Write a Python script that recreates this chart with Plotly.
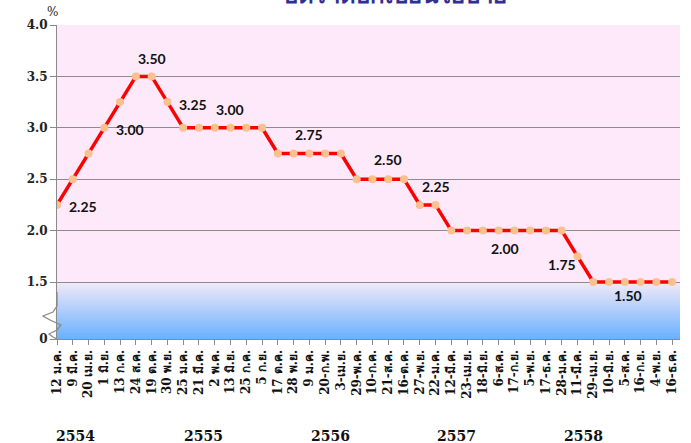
import plotly.graph_objects as go

# ---------------- data ----------------
dates = ["12 ม.ค.", "9 มี.ค.", "20 เม.ย.", "1 มิ.ย.", "13 ก.ค.", "24 ส.ค.", "19 ต.ค.", "30 พ.ย.",
         "25 ม.ค.", "21 มี.ค.", "2 พ.ค.", "13 มิ.ย.", "25 ก.ค.", "5 ก.ย.", "17 ต.ค.", "28 พ.ย.",
         "9 ม.ค.", "20-ก.พ.", "3-เม.ย.", "29-พ.ค.", "10-ก.ค.", "21-ส.ค.", "16-ต.ค.", "27-พ.ย.",
         "22-ม.ค.", "12-มี.ค.", "23-เม.ย.", "18-มิ.ย.", "6-ส.ค.", "17-ก.ย.", "5-พ.ย.", "17-ธ.ค.",
         "28-ม.ค.", "11-มี.ค.", "29-เม.ย.", "10-มิ.ย.", "5-ส.ค.", "16-ก.ย.", "4-พ.ย.", "16-ธ.ค."]
rates = [2.25, 2.50, 2.75, 3.00, 3.25, 3.50, 3.50, 3.25,
         3.00, 3.00, 3.00, 3.00, 3.00, 3.00, 2.75, 2.75,
         2.75, 2.75, 2.75, 2.50, 2.50, 2.50, 2.50, 2.25,
         2.25, 2.00, 2.00, 2.00, 2.00, 2.00, 2.00, 2.00,
         2.00, 1.75, 1.50, 1.50, 1.50, 1.50, 1.50, 1.50]
label_idx = [0, 3, 6, 7, 11, 16, 21, 24, 28, 33, 36]
years = ["2554", "2555", "2556", "2557", "2558"]
y_tickvals = [1.5, 2.0, 2.5, 3.0, 3.5, 4.0]
y_ticktext = ["1.5", "2.0", "2.5", "3.0", "3.5", "4.0"]
title_text = "อัตราดอกเบี้ยนโยบาย"

# ---------------- layout constants ----------------
W, H = 691, 443
ML, MR, MT, MB = 57, 11, 25, 104
PW, PH = W - ML - MR, H - MT - MB
Y_BOTTOM = 0.9455  # axis break: "0" shown at bottom
Y_TOP = 4.0
X_MAX = len(dates) - 0.5

def px_to_xp(px):
    return (px - ML) / PW

def py_to_yd(py):
    return Y_BOTTOM + (MT + PH - py) / PH * (Y_TOP - Y_BOTTOM)

def py_to_yp(py):
    return (MT + PH - py) / PH

x = list(range(len(dates)))

fig = go.Figure()
fig.add_trace(go.Scatter(
    x=x, y=rates, mode="lines+markers",
    line=dict(color="#FF0000", width=3.5),
    marker=dict(color="#FAC08F", size=8, line=dict(width=0)),
    hoverinfo="skip", showlegend=False,
))

shapes = []
# gradient band below 1.5 (stacked rects, each reaching to the bottom -> no seams)
n = 40
c_top = (242, 234, 248)
c_bot = (106, 176, 255)
for i in range(n):
    t0 = i / n
    tm = (i + 0.5) / n
    c = tuple(int(round(c_top[k] + (c_bot[k] - c_top[k]) * tm)) for k in range(3))
    y0 = 1.5 - (1.5 - Y_BOTTOM) * t0
    shapes.append(dict(type="rect", xref="paper", yref="y", x0=0, x1=1, y0=Y_BOTTOM, y1=y0,
                       fillcolor="rgb(%d,%d,%d)" % c, line=dict(width=0), layer="below"))

# axis-break squiggle
pts = [(57, 292), (57, 306), (53, 312), (43, 316), (50, 320), (61, 325),
       (57, 330), (49, 334), (53, 337), (57, 339)]
path = "M " + " L ".join("%.5f,%.5f" % (px_to_xp(px), py_to_yd(py)) for px, py in pts)
shapes.append(dict(type="path", xref="paper", yref="y", path=path,
                   line=dict(color="#8A8A8A", width=1.3), layer="above"))

# data-label annotations (offsets in px: dx right, dy down)
offsets = {0: (26, 2), 3: (26, 2), 6: (0, -18), 7: (26, 2), 11: (0, -18), 16: (0, -19),
           21: (0, -20), 24: (0, -18), 28: (6, 18), 33: (-15, 8), 36: (3, 13)}
annotations = []
for i in label_idx:
    dx, dy = offsets[i]
    annotations.append(dict(x=x[i], y=rates[i], xref="x", yref="y", text="<b>%.2f</b>" % rates[i],
                            showarrow=False, xshift=dx, yshift=-dy,
                            font=dict(family="Lato", size=14, color="#111111"),
                            xanchor="center", yanchor="middle"))

# year labels
year_px = [75, 203, 330, 456, 583]
for yl, px in zip(years, year_px):
    annotations.append(dict(x=px_to_xp(px), y=py_to_yp(436), xref="paper", yref="paper",
                            text="<b>%s</b>" % yl, showarrow=False,
                            font=dict(family="DejaVu Serif", size=14, color="#111111"),
                            xanchor="center", yanchor="middle"))

# % label
annotations.append(dict(x=px_to_xp(52), y=py_to_yp(12), xref="paper", yref="paper",
                        text="%", showarrow=False,
                        font=dict(family="DejaVu Serif", size=12, color="#222222"),
                        xanchor="center", yanchor="middle"))
# title (cut off at top, as in the reference)
annotations.append(dict(x=px_to_xp(395), y=py_to_yp(12), xref="paper", yref="paper",
                        text="<b>%s</b>" % title_text, showarrow=False,
                        font=dict(family="Noto Sans, DejaVu Sans, sans-serif", size=24, color="#2E3192"),
                        xanchor="center", yanchor="bottom"))

fig.update_layout(
    width=W, height=H,
    margin=dict(l=ML, r=MR, t=MT, b=MB, pad=0),
    paper_bgcolor="white",
    plot_bgcolor="#FDE9F9",
    shapes=shapes,
    annotations=annotations,
    showlegend=False,
)
fig.update_xaxes(
    range=[0, X_MAX], tickmode="array", tickvals=x, ticktext=["<b>%s</b>" % d for d in dates],
    tickangle=-90, ticks="outside", ticklen=5, tickcolor="#8A8A8A",
    showline=True, linecolor="#8A8A8A", linewidth=1, showgrid=False, zeroline=False,
    tickfont=dict(family="DejaVu Serif, serif", size=12, color="#111111"),
)
fig.update_yaxes(
    range=[Y_BOTTOM, Y_TOP], tickmode="array",
    tickvals=[Y_BOTTOM] + y_tickvals, ticktext=["<b>%s</b>" % t for t in ["0"] + y_ticktext],
    ticks="outside", ticklen=6, tickcolor="#8A8A8A",
    showline=True, linecolor="#8A8A8A", linewidth=1,
    showgrid=True, gridcolor="#8C8C8C", gridwidth=1, zeroline=False,
    tickfont=dict(family="DejaVu Serif", size=12, color="#222222"),
)

fig.write_html("out.html", config={"displayModeBar": False},
               post_script="document.body.style.margin='0';document.body.style.padding='0';")
